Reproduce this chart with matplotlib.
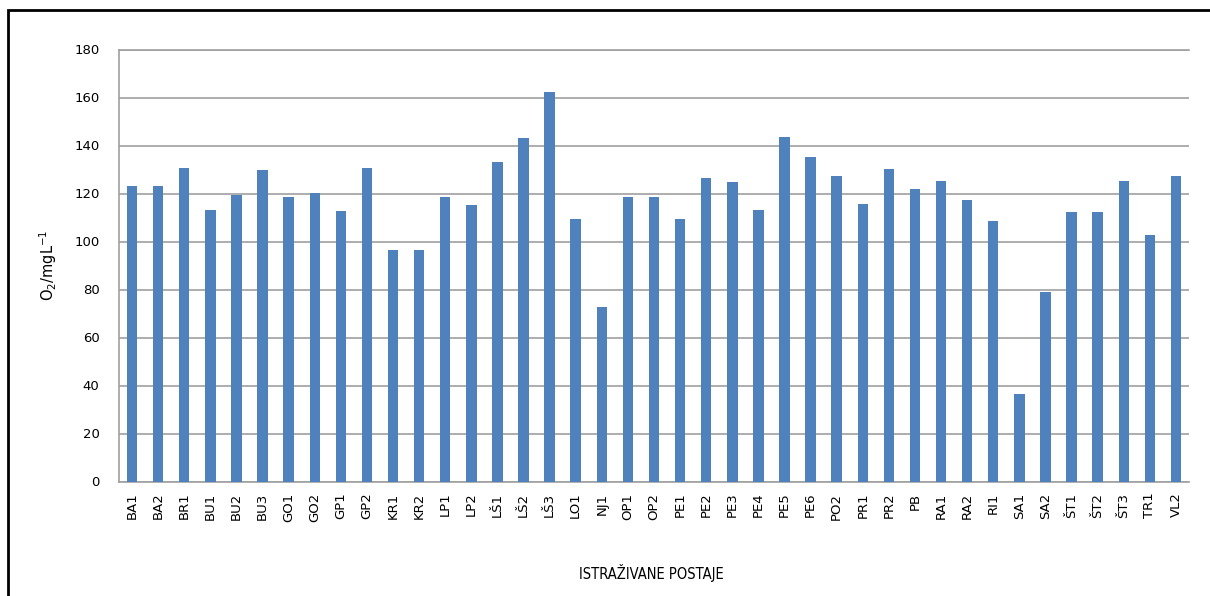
import matplotlib
matplotlib.use("Agg")
import matplotlib.pyplot as plt
from matplotlib.patches import Rectangle

stations = ["BA1", "BA2", "BR1", "BU1", "BU2", "BU3", "GO1", "GO2", "GP1", "GP2",
            "KR1", "KR2", "LP1", "LP2", "LŠ1", "LŠ2", "LŠ3", "LO1", "NJ1", "OP1",
            "OP2", "PE1", "PE2", "PE3", "PE4", "PE5", "PE6", "PO2", "PR1", "PR2",
            "PB", "RA1", "RA2", "RI1", "SA1", "SA2", "ŠT1", "ŠT2", "ŠT3", "TR1", "VL2"]
o2_values = [123.2, 123.2, 130.8, 113.3, 119.2, 129.6, 118.6, 120.1, 112.6, 130.8,
             96.4, 96.4, 118.6, 115.1, 133.0, 143.0, 162.1, 109.2, 72.6, 118.5,
             118.5, 109.3, 126.6, 125.0, 113.3, 143.5, 135.4, 127.2, 115.6, 130.1,
             121.9, 125.4, 117.2, 108.5, 36.3, 78.8, 112.1, 112.1, 125.4, 102.7, 127.2]
yticks = [0, 20, 40, 60, 80, 100, 120, 140, 160, 180]

W, H = 1210, 596
fig = plt.figure(figsize=(W / 100, H / 100), dpi=100)
ax = fig.add_axes([119 / W, 1 - 481.5 / H, (1189 - 119) / W, (481.5 - 49.5) / H])

x = range(len(stations))
ax.bar(x, o2_values, width=0.4, color="#4F81BD", zorder=3)

ax.set_xlim(-0.5, len(stations) - 0.5)
ax.set_ylim(0, 180)
ax.set_yticks(yticks)
ax.set_xticks(list(x))
ax.set_xticklabels(stations, rotation=90, fontsize=9.5)
ax.tick_params(axis="y", labelsize=9.5, length=0, pad=14)
ax.tick_params(axis="x", length=0, pad=8)
ax.yaxis.grid(True, color="#a0a0a0", linewidth=1.2, zorder=0)

ax.spines["right"].set_visible(False)
for side in ["left", "bottom", "top"]:
    ax.spines[side].set_color("#a0a0a0")
    ax.spines[side].set_linewidth(1.2)

fig.text(48 / W, 1 - 265 / H, r"O$_2$/mgL$^{-1}$", rotation=90,
         ha="center", va="center", fontsize=10.5)
fig.text(651 / W, 1 - 573 / H, "ISTRAŽIVANE POSTAJE", ha="center", va="center",
         fontsize=10.5, fontstretch="condensed")

# outer frame (only left and top edges visible in the crop)
fig.add_artist(Rectangle((8 / W, -0.05), 1.2, 1 - 10 / H + 0.05,
                         transform=fig.transFigure, fill=False,
                         edgecolor="black", linewidth=2))

fig.savefig("out.png", dpi=100)
